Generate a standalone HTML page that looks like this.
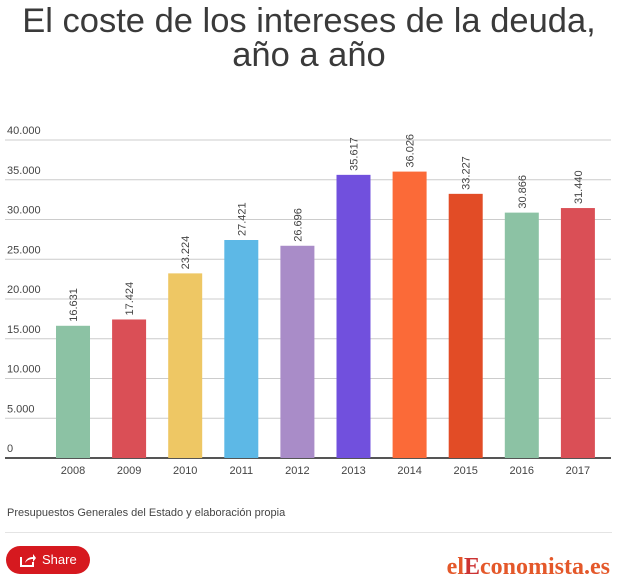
<!DOCTYPE html>
<html><head><meta charset="utf-8"><style>
body{margin:0;background:#fff;width:618px;height:583px;overflow:hidden;font-family:"Liberation Sans",sans-serif;position:relative}
#title{position:absolute;top:4px;left:0;width:618px;text-align:center;font-size:34.5px;line-height:34px;color:#3a3a3a}
#src{position:absolute;left:7px;top:507px;font-size:11px;color:#444}
#div{position:absolute;left:5px;top:532px;width:607px;height:1px;background:#e4e4e4}
#share{position:absolute;left:6px;top:546px;width:84px;height:28px;border-radius:14px;background:#d6191f;color:#fff;font-size:13px;line-height:28px}
#logo{position:absolute;right:8px;top:554px;font-family:"Liberation Serif",serif;font-weight:bold;font-size:24px;color:#e4582a}
</style></head><body>
<div id="title">El coste de los intereses de la deuda,<br>año a año</div>
<svg id="chart" width="618" height="490" style="position:absolute;left:0;top:0"></svg>
<div id="src">Presupuestos Generales del Estado y elaboración propia</div>
<div id="div"></div>
<div id="share"><svg width="16" height="14" style="position:absolute;left:14px;top:7px"><path d="M1 4v9h12v-4" stroke="#fff" stroke-width="2" fill="none"/><path d="M5 10c1-4 4-6 8-6V1l3 4-3 4V6c-3 0-6 1-8 4z" fill="#fff"/></svg><span style="position:absolute;left:36px">Share</span></div>
<div id="logo">el<span style="color:#c33">E</span>conomista.es</div>
<script>
const years=["2008","2009","2010","2011","2012","2013","2014","2015","2016","2017"];
const values=[16631,17424,23224,27421,26696,35617,36026,33227,30866,31440];
const labels=["16.631","17.424","23.224","27.421","26.696","35.617","36.026","33.227","30.866","31.440"];
const colors=["#8cc2a4","#da4f56","#eec764","#5db8e6","#a98cc8","#7150dd","#fb6a38","#e24c26","#8cc2a4","#da4f56"];
const ticks=[0,5000,10000,15000,20000,25000,30000,35000,40000];
const tickLabels=["0","5.000","10.000","15.000","20.000","25.000","30.000","35.000","40.000"];
const svg=document.getElementById('chart');const NS="http://www.w3.org/2000/svg";
const y0=458,ymax=140;
function Y(v){return y0-(v/40000)*(y0-ymax);}
function X(i){return 73+i*56.1;}
function mk(t,a,txt){const e=document.createElementNS(NS,t);for(const k in a)e.setAttribute(k,a[k]);if(txt!=null)e.textContent=txt;svg.appendChild(e);return e;}
ticks.forEach((t,i)=>{
const l=mk('line',{x1:5,x2:611,y1:Y(t),y2:Y(t),stroke:i==0?'#555':'#ccc','stroke-width':i==0?2:1});


const tx=mk('text',{x:7,y:Y(t)-6,'font-size':11,fill:'#444'},tickLabels[i]);


});
values.forEach((v,i)=>{
const r=mk('rect',{x:X(i)-17,y:Y(v),width:34,height:y0-Y(v),fill:colors[i]});


const t=mk('text',{x:0,y:0,'font-size':11,fill:'#444',transform:`translate(${X(i)+4},${Y(v)-4}) rotate(-90)`},labels[i]);


const yl=mk('text',{x:X(i),y:474,'font-size':11,fill:'#444','text-anchor':'middle'},years[i]);


});
</script>
</body></html>
